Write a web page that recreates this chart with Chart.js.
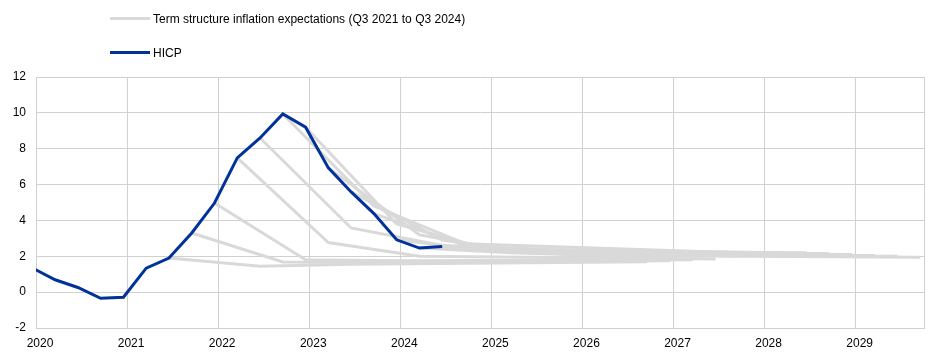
<!DOCTYPE html>
<html>
<head>
<meta charset="utf-8">
<script src="https://cdn.jsdelivr.net/npm/chart.js@4.4.1/dist/chart.umd.min.js"></script>
<style>
  html, body { margin: 0; padding: 0; background: #ffffff; }
  #wrap { position: relative; width: 945px; height: 354px; }
  canvas { position: absolute; left: 0; top: 0; }
  .leg { position: absolute; left: 110px; font-family: "Liberation Sans", Arial, sans-serif; font-size: 12px; color: #000; white-space: nowrap; }
  .leg .sw { display: inline-block; width: 40px; height: 3px; vertical-align: middle; margin-right: 3px; position: relative; top: -1px; }
</style>
</head>
<body>
<div id="wrap">
  <canvas id="c" width="945" height="354"></canvas>
  <div class="leg" style="top:12px"><span class="sw" style="background:#d9d9d9"></span>Term structure inflation expectations (Q3 2021 to Q3 2024)</div>
  <div class="leg" style="top:46px"><span class="sw" style="background:#003299"></span>HICP</div>
</div>
<script>
// HICP quarterly observations (decimal year, % y-o-y)
const hicpDates  = [2019.96, 2020.21, 2020.46, 2020.71, 2020.96, 2021.21, 2021.46, 2021.71, 2021.96, 2022.21, 2022.46, 2022.71, 2022.96, 2023.21, 2023.46, 2023.71, 2023.96, 2024.21, 2024.46];
const hicpValues = [1.35, 0.69, 0.26, -0.34, -0.28, 1.34, 1.90, 3.30, 4.97, 7.49, 8.60, 9.94, 9.20, 6.93, 5.59, 4.38, 2.92, 2.46, 2.55];

// Term structures of inflation expectations, one per quarter Q3 2021 .. Q3 2024
const tsOrigin   = [2021.46, 2021.71, 2021.96, 2022.21, 2022.46, 2022.71, 2022.96, 2023.21, 2023.46, 2023.71, 2023.96, 2024.21, 2024.46];
const tsNow      = [1.90, 3.30, 4.97, 7.49, 8.60, 9.94, 9.20, 6.93, 5.59, 4.38, 2.92, 2.46, 2.55];
const tsOneYear  = [1.45, 1.68, 1.80, 2.77, 3.58, 4.80, 3.80, 3.20, 2.90, 2.60, 2.30, 2.20, 2.20];
const tsTwoYear  = [1.55, 1.65, 1.75, 2.00, 2.60, 2.70, 2.40, 2.30, 2.20, 2.15, 2.10, 2.05, 2.05];
const tsFiveYear = [1.70, 1.75, 1.80, 1.85, 2.00, 2.15, 2.20, 2.20, 2.15, 2.10, 2.05, 2.00, 1.95];
const tsHorizons = [0, 1, 2, 5.25];

// Axis definitions
const xMin = 2020, xMax = 2029.75;
const xTickYears = [2020, 2021, 2022, 2023, 2024, 2025, 2026, 2027, 2028, 2029];
const yMin = -2, yMax = 12, yStep = 2;

const GRAY = '#d9d9d9';
const BLUE = '#003299';

const datasets = [];
tsOrigin.forEach((t0, i) => {
  const vals = [tsNow[i], tsOneYear[i], tsTwoYear[i], tsFiveYear[i]];
  datasets.push({
    label: 'Term structure inflation expectations (Q3 2021 to Q3 2024)',
    data: tsHorizons.map((h, j) => ({ x: t0 + h, y: vals[j] })),
    borderColor: GRAY,
    borderWidth: 3,
    pointRadius: 0,
    tension: 0,
    order: 2
  });
});
datasets.push({
  label: 'HICP',
  data: hicpDates.map((d, i) => ({ x: d, y: hicpValues[i] })),
  borderColor: BLUE,
  borderWidth: 3,
  pointRadius: 0,
  tension: 0,
  order: 1
});

const font = { family: '"Liberation Sans", Arial, sans-serif', size: 12 };

new Chart(document.getElementById('c'), {
  type: 'line',
  data: { datasets },
  options: {
    responsive: false,
    animation: false,
    layout: { padding: { top: 77, right: 21, bottom: 3, left: 0 } },
    plugins: { legend: { display: false }, tooltip: { enabled: false } },
    elements: { line: { borderCapStyle: 'butt', borderJoinStyle: 'miter' } },
    scales: {
      x: {
        type: 'linear',
        min: xMin, max: xMax,
        afterBuildTicks: s => {
          s.ticks = xTickYears.map(v => ({ value: v })).concat([{ value: xMax }]);
        },
        ticks: {
          color: '#000', font, padding: 8, maxRotation: 0, autoSkip: false,
          labelOffset: 4,
          callback: v => xTickYears.includes(v) ? String(v) : ''
        },
        grid: { color: '#d0d0d0', lineWidth: 1, drawTicks: false },
        border: { display: true, color: '#d0d0d0' },
        afterFit: s => { s.height = 23; }
      },
      y: {
        min: yMin, max: yMax,
        ticks: { stepSize: yStep, color: '#000', font, padding: 10 },
        grid: { color: '#d0d0d0', lineWidth: 1, drawTicks: false },
        border: { display: true, color: '#d0d0d0' },
        afterFit: s => { s.width = 36; }
      }
    }
  }
});
</script>
</body>
</html>
